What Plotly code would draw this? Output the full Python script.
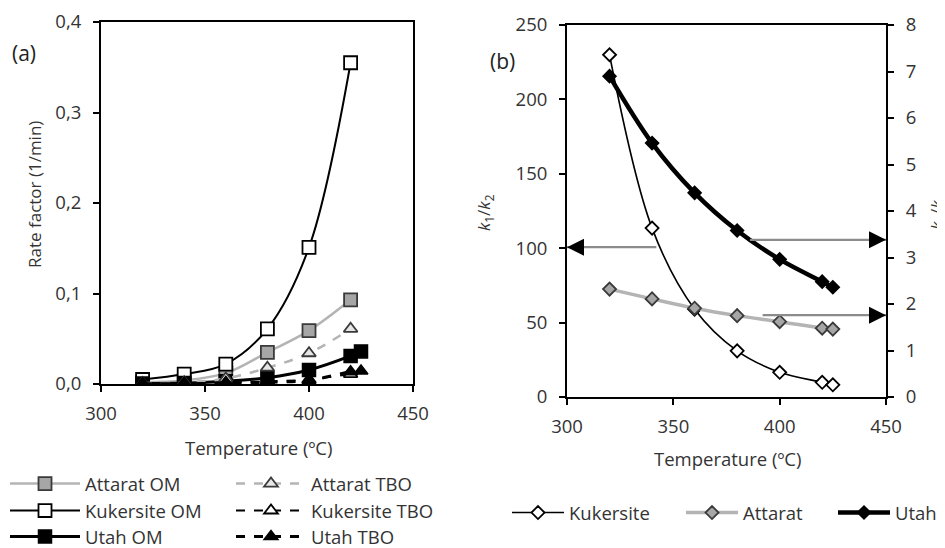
import plotly.graph_objects as go

# ---------------- data ----------------
temps_a = [320, 340, 360, 380, 400, 420]
temps_a_utah = [320, 340, 360, 380, 400, 420, 425]
attarat_om = [0.002, 0.004, 0.012, 0.035, 0.059, 0.093]
kukersite_om = [0.005, 0.011, 0.022, 0.061, 0.151, 0.355]
utah_om = [0.0005, 0.001, 0.003, 0.007, 0.0155, 0.031, 0.036]
attarat_tbo = [0.001, 0.002, 0.006, 0.018, 0.034, 0.061]
kukersite_tbo = [0.0003, 0.0006, 0.0015, 0.003, 0.005, 0.011]
utah_tbo = [0.0002, 0.0004, 0.001, 0.002, 0.004, 0.0135, 0.0145]

temps_b = [320, 340, 360, 380, 400, 420, 425]
kukersite_ratio = [230, 113.5, 59, 31, 16.6, 9.9, 8.2]      # left axis
attarat_ratio = [2.32, 2.11, 1.91, 1.75, 1.62, 1.48, 1.46]   # right axis
utah_ratio = [6.90, 5.46, 4.39, 3.58, 2.96, 2.48, 2.36]      # right axis

# arrows (data coordinates): [tail_x, head_x, y]
arrow_left = [342, 300, 100.7]
arrow_right_utah = [386, 450, 3.38]
arrow_right_attarat = [392, 450, 1.76]

FONT = "Open Sans"
W, H = 945, 548
OFF = 8  # page body margin
def px(x): return (x - OFF) / W
def py(y): return 1 - (y - OFF) / H

GRAY_LINE = "#b4b4b4"
GRAY_FILL = "#a6a6a6"
DARK = "#3a3a3a"
TXT = "#333333"
FS = 18.5

fig = go.Figure()

# ---------------- panel (a) ----------------
fig.add_trace(go.Scatter(x=temps_a, y=attarat_om, name="Attarat OM", mode="lines+markers",
    line=dict(color=GRAY_LINE, width=2.5, shape="spline"),
    marker=dict(symbol="square", size=13, color=GRAY_FILL, line=dict(color=DARK, width=1.8)),
    xaxis="x", yaxis="y", legend="legend"))
fig.add_trace(go.Scatter(x=temps_a, y=kukersite_om, name="Kukersite OM", mode="lines+markers",
    line=dict(color="black", width=2, shape="spline"),
    marker=dict(symbol="square", size=13, color="white", line=dict(color="black", width=1.8)),
    xaxis="x", yaxis="y", legend="legend2"))
fig.add_trace(go.Scatter(x=temps_a_utah, y=utah_om, name="Utah OM", mode="lines+markers",
    line=dict(color="black", width=3, shape="spline"),
    marker=dict(symbol="square", size=13, color="black", line=dict(color="black", width=1.5)),
    xaxis="x", yaxis="y", legend="legend3"))
fig.add_trace(go.Scatter(x=temps_a, y=attarat_tbo, name="Attarat TBO", mode="lines+markers",
    line=dict(color=GRAY_LINE, width=2.5, dash="dash", shape="spline"),
    marker=dict(symbol="triangle-up", size=12, color="#e6e6e6", line=dict(color=DARK, width=1.8)),
    xaxis="x", yaxis="y", legend="legend4"))
fig.add_trace(go.Scatter(x=temps_a, y=kukersite_tbo, name="Kukersite TBO", mode="lines+markers",
    line=dict(color="black", width=1.8, dash="dash", shape="spline"),
    marker=dict(symbol="triangle-up", size=12, color="white", line=dict(color="black", width=1.8)),
    xaxis="x", yaxis="y", legend="legend5"))
fig.add_trace(go.Scatter(x=temps_a_utah, y=utah_tbo, name="Utah TBO", mode="lines+markers",
    line=dict(color="black", width=3, dash="dash", shape="spline"),
    marker=dict(symbol="triangle-up", size=12, color="black", line=dict(color="black", width=1.5)),
    xaxis="x", yaxis="y", legend="legend6"))

# ---------------- panel (b) ----------------
fig.add_trace(go.Scatter(x=temps_b, y=kukersite_ratio, name="Kukersite", mode="lines+markers",
    line=dict(color="black", width=1.6, shape="spline"),
    marker=dict(symbol="diamond", size=10, color="white", line=dict(color="black", width=1.8)),
    xaxis="x2", yaxis="y2", legend="legend7"))
fig.add_trace(go.Scatter(x=temps_b, y=attarat_ratio, name="Attarat", mode="lines+markers",
    line=dict(color=GRAY_LINE, width=3.5, shape="spline"),
    marker=dict(symbol="diamond", size=10, color=GRAY_FILL, line=dict(color=DARK, width=1.8)),
    xaxis="x2", yaxis="y3", legend="legend8"))
fig.add_trace(go.Scatter(x=temps_b, y=utah_ratio, name="Utah", mode="lines+markers",
    line=dict(color="black", width=4.5, shape="spline"),
    marker=dict(symbol="diamond", size=10, color="black", line=dict(color="black", width=1.5)),
    xaxis="x2", yaxis="y3", legend="legend9"))

tickfont = dict(family=FONT, size=FS, color=TXT)
axis_common = dict(showgrid=False, zeroline=False, showline=True, linecolor="black", linewidth=2,
                   ticks="outside", ticklen=6, tickwidth=1.5, tickcolor="black",
                   tickfont=tickfont, automargin=False, fixedrange=True)

fig.update_layout(
    width=W, height=H,
    margin=dict(l=0, r=0, t=0, b=0, autoexpand=False),
    paper_bgcolor="white", plot_bgcolor="white",
    separators=", ",
    showlegend=True,
    font=dict(family=FONT, size=FS, color=TXT),
    xaxis=dict(domain=[px(101), px(413)], range=[300, 450], dtick=50, anchor="y",
               mirror=True, ticklabelstandoff=6, **axis_common),
    yaxis=dict(domain=[py(384), py(22)], range=[0, 0.4], dtick=0.1, tickformat=".1f",
               anchor="x", mirror=True, ticklabelstandoff=8, **axis_common),
    xaxis2=dict(domain=[px(567), px(886)], range=[300, 450], dtick=50, anchor="y2",
                mirror=True, ticklabelstandoff=6, **axis_common),
    yaxis2=dict(domain=[py(397), py(25)], range=[0, 250], dtick=50, anchor="x2",
                ticklabelstandoff=8, **axis_common),
    yaxis3=dict(domain=[py(397), py(25)], range=[0, 8], dtick=1, anchor="x2", overlaying="y2",
                side="right", ticklabelstandoff=8, **axis_common),
)

# legends: one per entry for exact placement  (left x, centre y, symbol width)
leg_font = dict(family=FONT, size=FS, color=TXT)
legend_pos = {
    "legend": (5, 484, 70), "legend2": (5, 511, 70), "legend3": (5, 537, 70),
    "legend4": (231, 484, 70), "legend5": (231, 511, 70), "legend6": (231, 537, 70),
    "legend7": (507, 513, 52), "legend8": (681, 513, 52), "legend9": (833, 513, 52),
}
for key, (lx, ly, iw) in legend_pos.items():
    fig.update_layout({key: dict(x=px(lx), y=py(ly), xanchor="left", yanchor="middle",
                                 xref="paper", yref="paper", bgcolor="rgba(0,0,0,0)",
                                 font=leg_font, borderwidth=0, visible=True, itemwidth=iw)})

# arrows
shapes = []
annotations = []
for (tail, head, yv), yref in [(arrow_left, "y2"), (arrow_right_utah, "y3"), (arrow_right_attarat, "y3")]:
    shapes.append(dict(type="line", xref="x2", yref=yref, x0=tail, x1=head, y0=yv, y1=yv,
                       line=dict(color="#8c8c8c", width=2.2)))
    step = 6 if head > tail else -6
    annotations.append(dict(xref="x2", yref=yref, axref="x2", ayref=yref,
                            x=head, y=yv, ax=head - step, ay=yv, text="",
                            showarrow=True, arrowhead=2, arrowsize=1.7, arrowwidth=2,
                            arrowcolor="black"))

def label(text, x, y, size, angle=0, color=TXT):
    return dict(text=text, x=px(x), y=py(y), xref="paper", yref="paper", showarrow=False,
                xanchor="center", yanchor="middle", textangle=angle,
                font=dict(family=FONT, size=size, color=color))

# titles and panel labels
annotations += [
    label("(a)", 24, 53, 21, color="#222222"),
    label("(b)", 502, 61, 21, color="#222222"),
    label("Rate factor (1/min)", 34, 195, 17, angle=-90),
    label("Temperature (ºC)", 258, 447, FS),
    label("Temperature (ºC)", 727, 458, FS),
    label("<i>k</i><sub>1</sub>/<i>k</i><sub>2</sub>", 484, 212, 17, angle=-90),
    label("<i>k</i><sub>1</sub>/<i>k</i><sub>2</sub>", 937, 212, 17, angle=-90),
]

fig.update_layout(shapes=shapes, annotations=annotations)
fig.write_html("out.html")
